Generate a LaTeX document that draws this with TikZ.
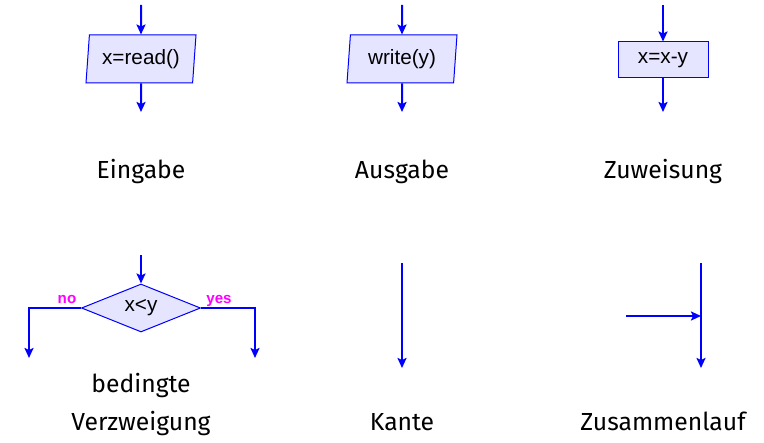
\documentclass[tikz,border=0pt]{standalone}
\usepackage{fontspec}
\setmainfont{Fira Sans}
\newfontfamily\boxfont{Liberation Sans}
\usetikzlibrary{arrows.meta, positioning, shapes.geometric}
\definecolor{branchpink}{RGB}{255,0,255}

\tikzset{
    flow/.style={draw=blue, line width=1bp, -{Stealth[length=5bp, width=4.5bp, inset=1bp]}},
    iobox/.style={trapezium, trapezium left angle=80, trapezium right angle=100,
        trapezium stretches body, draw=blue, line width=0.5bp, fill=blue!10,
        minimum width=55bp, minimum height=24bp, inner sep=0pt,
        font=\boxfont\fontsize{10.4}{12}\selectfont},
    opbox/.style={rectangle, draw=blue, line width=0.5bp, fill=blue!10,
        minimum width=45bp, minimum height=18bp, inner sep=0pt,
        font=\boxfont\fontsize{10.4}{12}\selectfont},
    testbox/.style={diamond, draw=blue, line width=0.5bp, fill=blue!10,
        minimum width=59.5bp, minimum height=24bp, inner sep=0pt, aspect=2.5,
        font=\boxfont\fontsize{10.4}{12}\selectfont},
    caption/.style={anchor=base, font=\fontsize{12.4}{14}\selectfont},
    branch/.style={anchor=base, text=branchpink, inner sep=0pt,
        font=\boxfont\bfseries\fontsize{7.6}{8}\selectfont},
}

\begin{document}
\begin{tikzpicture}[x=0.5bp, y=-0.5bp]
    \useasboundingbox (0,0) rectangle (764,443);

    % Eingabe
    \coordinate (inTop) at (141,5);
    \node[iobox] (inBox) at (141,59) {x=read()};
    \coordinate (inEnd) at (141,112);
    \draw[flow] (inTop) -- (inBox);
    \draw[flow] (inBox) -- (inEnd);
    \node[caption] (inLabel) at (141,179) {Eingabe};

    % Ausgabe
    \coordinate (outTop) at (402,5);
    \node[iobox] (outBox) at (402,59) {write(y)};
    \coordinate (outEnd) at (402,112);
    \draw[flow] (outTop) -- (outBox);
    \draw[flow] (outBox) -- (outEnd);
    \node[caption] (outLabel) at (402,179) {Ausgabe};

    % Zuweisung
    \coordinate (setTop) at (663,5);
    \node[opbox] (setBox) at (663,60) {x=x-y};
    \coordinate (setEnd) at (663,112);
    \draw[flow] (setTop) -- (setBox);
    \draw[flow] (setBox) -- (setEnd);
    \node[caption] (setLabel) at (663,179) {Zuweisung};

    % bedingte Verzweigung
    \coordinate (ifTop) at (141,255);
    \node[testbox] (ifBox) at (141,308) {x<y};
    \coordinate (noEnd) at (29,358);
    \coordinate (yesEnd) at (255,358);
    \draw[flow] (ifTop) -- (ifBox);
    \draw[flow] (ifBox.west) -| (noEnd);
    \draw[flow] (ifBox.east) -| (yesEnd);
    \node[branch] (noLabel) at (67,304) {no};
    \node[branch] (yesLabel) at (219,304) {yes};
    \node[caption] (ifLabelA) at (141,393) {bedingte};
    \node[caption] (ifLabelB) at (141,431) {Verzweigung};

    % Kante
    \coordinate (edgeTop) at (402,263);
    \coordinate (edgeEnd) at (402,368);
    \draw[flow] (edgeTop) -- (edgeEnd);
    \node[caption] (edgeLabel) at (402,431) {Kante};

    % Zusammenlauf
    \coordinate (joinTop) at (701,263);
    \coordinate (joinMid) at (701,316);
    \coordinate (joinSide) at (626,316);
    \coordinate (joinEnd) at (701,368);
    \draw[flow] (joinTop) -- (joinEnd);
    \draw[flow] (joinSide) -- (joinMid);
    \node[caption] (joinLabel) at (663,431) {Zusammenlauf};
\end{tikzpicture}
\end{document}
